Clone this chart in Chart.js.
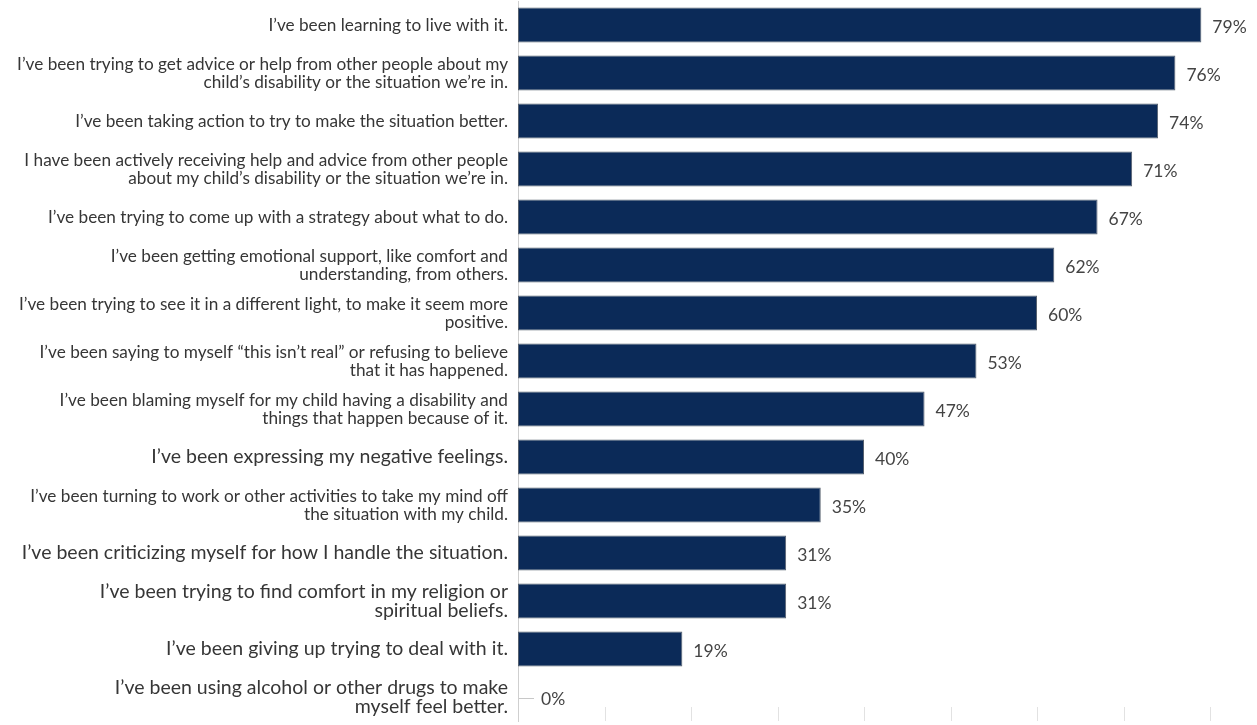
<!DOCTYPE html>
<html>
<head>
<meta charset="utf-8">
<script src="https://cdn.jsdelivr.net/npm/chart.js@4.4.1/dist/chart.umd.min.js"></script>
<style>
  html, body { margin: 0; padding: 0; background: #fff; }
  #wrap { width: 1257px; height: 725px; position: relative; }
</style>
</head>
<body>
<div id="wrap"><canvas id="copingChart"></canvas></div>
<script>
  'use strict';

  // ---- data ----
  var copingLabels = [
    ['I\u2019ve been learning to live with it.'],
    ['I\u2019ve been trying to get advice or help from other people about my', 'child\u2019s disability or the situation we\u2019re in.'],
    ['I\u2019ve been taking action to try to make the situation better.'],
    ['I have been actively receiving help and advice from other people', 'about my child\u2019s disability or the situation we\u2019re in.'],
    ['I\u2019ve been trying to come up with a strategy about what to do.'],
    ['I\u2019ve been getting emotional support, like comfort and', 'understanding, from others.'],
    ['I\u2019ve been trying to see it in a different light, to make it seem more', 'positive.'],
    ['I\u2019ve been saying to myself \u201cthis isn\u2019t real\u201d or refusing to believe', 'that it has happened.'],
    ['I\u2019ve been blaming myself for my child having a disability and', 'things that happen because of it.'],
    ['I\u2019ve been expressing my negative feelings.'],
    ['I\u2019ve been turning to work or other activities to take my mind off', 'the situation with my child.'],
    ['I\u2019ve been criticizing myself for how I handle the situation.'],
    ['I\u2019ve been trying to find comfort in my religion or', 'spiritual beliefs.'],
    ['I\u2019ve been giving up trying to deal with it.'],
    ['I\u2019ve been using alcohol or other drugs to make', 'myself feel better.']
  ];
  var copingPercent = [79, 76, 74, 71, 67, 62, 60, 53, 47, 40, 35, 31, 31, 19, 0];
  // rows whose label is set in the larger type
  var largeLabelRows = [9, 11, 12, 13, 14];
  var axisMax = 80;
  var axisStep = 10;

  var navy = '#0b2a58';
  var labelFont = 'Lato, "Open Sans", sans-serif';

  // value text at the end of each bar
  var valueLabels = {
    id: 'valueLabels',
    afterDatasetsDraw: function (chart) {
      var ctx = chart.ctx;
      var meta = chart.getDatasetMeta(0);
      ctx.save();
      ctx.font = '17.5px ' + labelFont;
      ctx.fillStyle = '#444';
      ctx.textBaseline = 'middle';
      meta.data.forEach(function (bar, i) {
        var v = copingPercent[i];
        var x = bar.x + 11;
        if (v === 0) {
          // short leader for the empty bar
          ctx.strokeStyle = '#c8c8c8';
          ctx.lineWidth = 1;
          ctx.beginPath();
          ctx.moveTo(bar.x + 1, bar.y + 1.5);
          ctx.lineTo(bar.x + 16, bar.y + 1.5);
          ctx.stroke();
          x = bar.x + 23;
        }
        ctx.fillText(v + '%', x, bar.y + 2);
      });
      ctx.restore();
    }
  };

  // small tick marks standing up from the bottom edge
  var bottomTicks = {
    id: 'bottomTicks',
    afterDraw: function (chart) {
      var ctx = chart.ctx;
      var xs = chart.scales.x;
      var bottom = chart.chartArea.bottom;
      ctx.save();
      ctx.strokeStyle = '#e2e2e2';
      ctx.lineWidth = 1;
      for (var v = axisStep; v <= axisMax; v += axisStep) {
        var px = Math.round(xs.getPixelForValue(v)) + 0.5;
        ctx.beginPath();
        ctx.moveTo(px, bottom - 14);
        ctx.lineTo(px, bottom);
        ctx.stroke();
      }
      ctx.restore();
    }
  };

  var chartCtx = document.getElementById('copingChart').getContext('2d');
  var copingChart = new Chart(chartCtx, {
    type: 'bar',
    data: {
      labels: copingLabels,
      datasets: [{
        data: copingPercent,
        backgroundColor: navy,
        borderColor: '#56606e',
        borderWidth: 1,
        borderSkipped: false,
        barPercentage: 0.84,
        categoryPercentage: 0.87
      }]
    },
    options: {
      indexAxis: 'y',
      responsive: true,
      maintainAspectRatio: false,
      animation: false,
      layout: { padding: { top: 1, bottom: 4, right: 47, left: 0 } },
      plugins: {
        legend: { display: false },
        tooltip: { enabled: false }
      },
      scales: {
        x: {
          display: false,
          min: 0,
          max: axisMax,
          ticks: { stepSize: axisStep }
        },
        y: {
          afterFit: function (scale) {
            scale.width = 518;
            // labels sit mid-category, no room needed above or below
            scale.paddingTop = 0;
            scale.paddingBottom = 0;
          },
          grid: { display: false, drawTicks: false },
          border: { display: true, color: '#cfcfcf', width: 1 },
          ticks: {
            padding: 10,
            color: '#363636',
            autoSkip: false,
            font: function (c) {
              var big = largeLabelRows.indexOf(c.index) >= 0;
              return { family: labelFont, size: big ? 19.5 : 17.2, lineHeight: big ? 1.0 : 1.05 };
            }
          }
        }
      }
    },
    plugins: [valueLabels, bottomTicks]
  });
</script>
</body>
</html>
